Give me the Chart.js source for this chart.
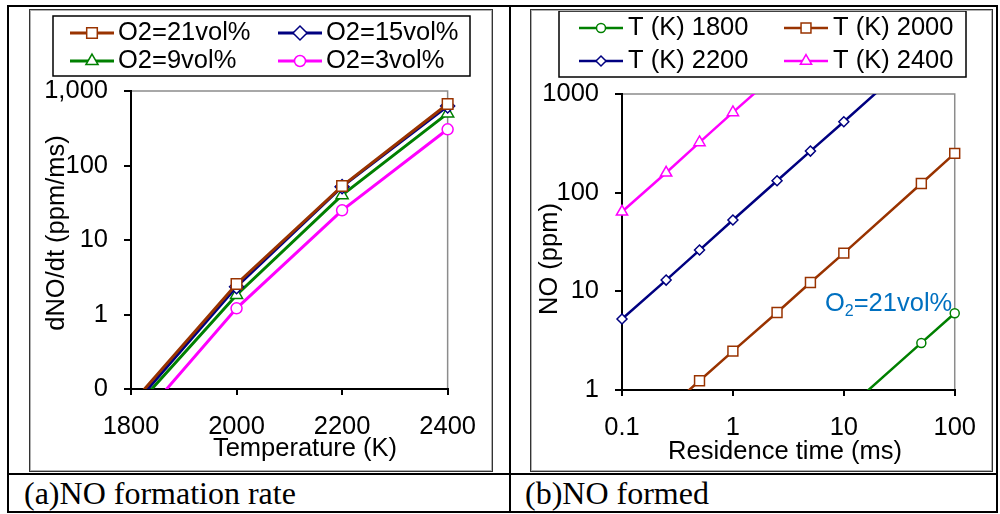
<!DOCTYPE html>
<html>
<head>
<meta charset="utf-8">
<script src="https://cdn.jsdelivr.net/npm/chart.js@4.4.1/dist/chart.umd.min.js"></script>
<style>
body{margin:0;background:#fff;width:1000px;height:514px;position:relative;overflow:hidden}
.rule{position:absolute;background:#000}
.frame{position:absolute;box-sizing:border-box;border:1px solid #333;box-shadow:inset 0 0 0 1px #b0b0b0;pointer-events:none}
canvas{position:absolute}
.cap{position:absolute;font-family:"Liberation Serif","Times New Roman",serif;font-size:32px;line-height:32px;color:#000;white-space:nowrap}
</style>
</head>
<body>

<canvas id="rate" width="464" height="463" style="left:29px;top:9px"></canvas>
<canvas id="formed" width="463" height="463" style="left:530px;top:9px"></canvas>
<div class="frame" style="left:29px;top:9px;width:464px;height:463px"></div>
<div class="frame" style="left:530px;top:9px;width:463px;height:463px"></div>

<div class="rule" style="left:7px;top:5px;width:991px;height:2px"></div>
<div class="rule" style="left:7px;top:511px;width:991px;height:2px"></div>
<div class="rule" style="left:7px;top:5px;width:2px;height:508px"></div>
<div class="rule" style="left:996px;top:5px;width:2px;height:508px"></div>
<div class="rule" style="left:509px;top:5px;width:2px;height:508px"></div>
<div class="rule" style="left:7px;top:473px;width:991px;height:2px"></div>

<div class="cap" style="left:24px;top:477px">(a)NO formation rate</div>
<div class="cap" style="left:525px;top:477px">(b)NO formed</div>

<script>
// (a) formation rate vs temperature
const tempK = [1800, 2000, 2200, 2400];
const rate21 = [0.062, 2.57, 53, 670];
const rate15 = [0.055, 2.36, 52, 630];
const rate9 = [0.049, 1.83, 40, 500];
const rate3 = [0.028, 1.21, 25, 306];
const tempTicks = [1800, 2000, 2200, 2400];
const rateTicks = [0.1, 1, 10, 100, 1000];

// (b) NO formed vs residence time
const timeMs = [0.1, 0.25, 0.5, 1, 2.5, 5, 10, 50, 100];
const no1800 = [0.006, 0.015, 0.03, 0.06, 0.15, 0.3, 0.6, 3.0, 6.0];
const no2000 = [0.25, 0.62, 1.24, 2.48, 6.1, 12.3, 24.4, 124, 250];
const no2200 = [5.24, 13.0, 26.2, 52.8, 132, 264, 523, 2640, 5280];
const no2400 = [64, 159, 323, 651, 1620, 3250, 6500, 32500, 65000];
const timeTicks = [0.1, 1, 10, 100];
const noTicks = [1, 10, 100, 1000];

const BROWN = '#993300', NAVY = '#000080', GREEN = '#008000', PINK = '#ff00ff';
const FONT = '"Liberation Sans", Arial, sans-serif';
const FS = 25.5;

Chart.defaults.font.family = FONT;
Chart.defaults.font.size = FS;
Chart.defaults.color = '#000';

function pairs(xs, ys){
  return xs.map((x, i) => ({x: x, y: ys[i]}));
}

function series(label, xs, ys, color, style, r, lw){
  return {
    label: label,
    data: pairs(xs, ys),
    borderColor: color,
    backgroundColor: '#fff',
    borderWidth: lw,
    pointStyle: style,
    pointRadius: r,
    pointBorderColor: color,
    pointBackgroundColor: '#fff',
    pointBorderWidth: 1.5,
    tension: 0,
    clip: {left: 12, right: 12, top: 0, bottom: 0}
  };
}

function axis(type, min, max, ticks, size, pad, fmt, horizontal){
  return {
    type: type, min: min, max: max,
    afterBuildTicks: s => { s.ticks = ticks.map(v => ({value: v})); },
    afterFit: s => { if (horizontal) s.height = size; else s.width = size; },
    grid: {display: true, drawOnChartArea: false, drawTicks: true, tickLength: horizontal ? 6 : 7, color: '#000', lineWidth: 2},
    border: {display: true, color: '#000', width: 2},
    ticks: {padding: pad, maxRotation: 0, autoSkip: false, color: '#000', font: {size: FS}, callback: fmt}
  };
}

const decor = {
  id: 'decor',
  beforeDraw(chart){
    const a = chart.chartArea, ctx = chart.ctx;
    ctx.save();
    ctx.strokeStyle = '#8c8c8c';
    ctx.lineWidth = 1.5;
    ctx.strokeRect(a.left, a.top, a.right - a.left, a.bottom - a.top);
    ctx.restore();
  },
  afterDraw(chart, args, o){
    const ctx = chart.ctx;
    ctx.save();
    ctx.font = FS + 'px ' + FONT;
    ctx.fillStyle = '#000';
    ctx.textAlign = 'center';
    ctx.textBaseline = 'middle';
    ctx.fillText(o.xTitle, o.xAt[0], o.xAt[1]);
    ctx.save();
    ctx.translate(o.yAt[0], o.yAt[1]);
    ctx.rotate(-Math.PI / 2);
    ctx.fillText(o.yTitle, 0, 0);
    ctx.restore();

    // boxed legend, two columns
    const L = o.legend;
    ctx.strokeStyle = '#000';
    ctx.lineWidth = 1.5;
    ctx.strokeRect(L.box[0], L.box[1], L.box[2], L.box[3]);
    chart.data.datasets.forEach((ds, i) => {
      const x = L.cols[i % 2], y = L.rows[Math.floor(i / 2)];
      ctx.strokeStyle = ds.borderColor;
      ctx.lineWidth = ds.borderWidth;
      ctx.beginPath();
      ctx.moveTo(x, y);
      ctx.lineTo(x + L.len, y);
      ctx.stroke();
      ctx.fillStyle = '#fff';
      ctx.lineWidth = ds.pointBorderWidth;
      Chart.helpers.drawPoint(ctx, {pointStyle: ds.pointStyle, radius: ds.pointRadius, rotation: 0, borderWidth: ds.pointBorderWidth}, x + L.len / 2, y);
      ctx.fillStyle = '#000';
      ctx.textAlign = 'left';
      ctx.fillText(ds.label, x + L.len + L.gap, y);
    });

    if (o.note) {
      const n = o.note;
      ctx.fillStyle = '#0070c0';
      ctx.textAlign = 'left';
      ctx.textBaseline = 'alphabetic';
      ctx.font = FS + 'px ' + FONT;
      let x = n.x;
      ctx.fillText('O', x, n.y);
      x += ctx.measureText('O').width;
      ctx.font = '16px ' + FONT;
      ctx.fillText('2', x, n.y + 5);
      x += ctx.measureText('2').width;
      ctx.font = FS + 'px ' + FONT;
      ctx.fillText('=21vol%', x, n.y);
    }
    ctx.restore();
  }
};

new Chart(document.getElementById('rate'), {
  type: 'line',
  data: {
    datasets: [
      series('O2=21vol%', tempK, rate21, BROWN, 'rect', 7.5, 3),
      series('O2=15vol%', tempK, rate15, NAVY, 'rectRot', 7, 3),
      series('O2=9vol%', tempK, rate9, GREEN, 'triangle', 7, 3),
      series('O2=3vol%', tempK, rate3, PINK, 'circle', 5.5, 3)
    ]
  },
  options: {
    responsive: false,
    animation: false,
    layout: {padding: {top: 82, right: 42, left: 0, bottom: 0}},
    plugins: {
      legend: {display: false},
      tooltip: {enabled: false},
      decor: {
        xTitle: 'Temperature (K)', xAt: [276, 440],
        yTitle: 'dNO/dt (ppm/ms)', yAt: [28, 224],
        legend: {box: [24, 7, 417, 60], cols: [41, 249], rows: [24, 52], len: 44, gap: 4}
      }
    },
    scales: {
      x: axis('linear', 1800, 2400, tempTicks, 83, 17, v => String(v), true),
      y: axis('logarithmic', 0.1, 1000, rateTicks, 102, 16, v => v < 1 ? '0' : Math.round(v).toLocaleString('en-US'), false)
    }
  },
  plugins: [decor]
});

new Chart(document.getElementById('formed'), {
  type: 'line',
  data: {
    datasets: [
      series('T (K) 1800', timeMs, no1800, GREEN, 'circle', 4.5, 2.5),
      series('T (K) 2000', timeMs, no2000, BROWN, 'rect', 7, 2.5),
      series('T (K) 2200', timeMs, no2200, NAVY, 'rectRot', 5, 2.5),
      series('T (K) 2400', timeMs, no2400, PINK, 'triangle', 6.5, 2.5)
    ]
  },
  options: {
    responsive: false,
    animation: false,
    layout: {padding: {top: 85, right: 35, left: 0, bottom: 0}},
    plugins: {
      legend: {display: false},
      tooltip: {enabled: false},
      decor: {
        xTitle: 'Residence time (ms)', xAt: [255, 443],
        yTitle: 'NO (ppm)', yAt: [20, 250],
        legend: {box: [29, 2, 407, 66], cols: [49, 254], rows: [19, 52], len: 44, gap: 5},
        note: {x: 295, y: 302}
      }
    },
    scales: {
      x: axis('logarithmic', 0.1, 100, timeTicks, 82, 17, v => String(v), true),
      y: axis('logarithmic', 1, 1000, noTicks, 92, 16, v => String(v), false)
    }
  },
  plugins: [decor]
});
</script>
</body>
</html>
